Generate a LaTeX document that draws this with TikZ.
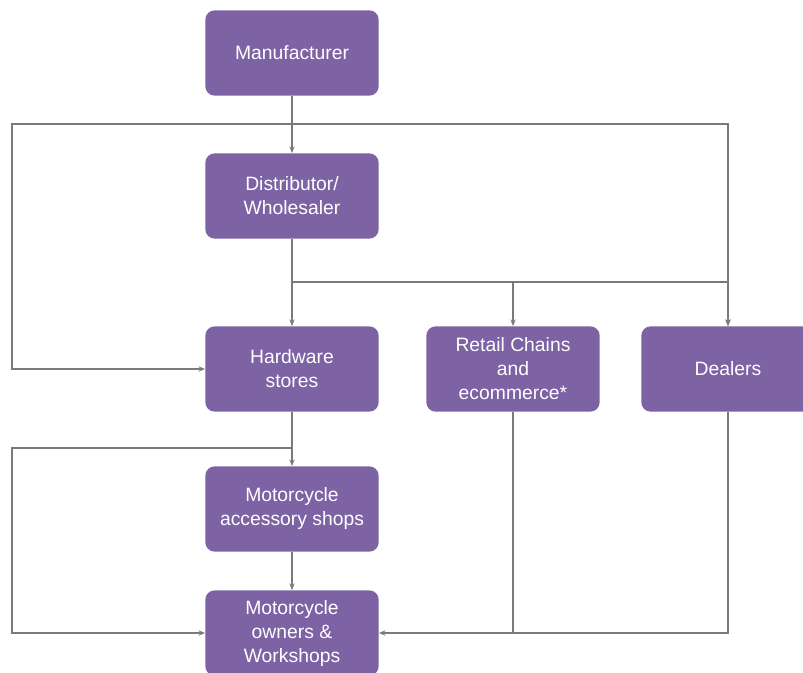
\documentclass[tikz,border=0pt]{standalone}
\usepackage{fontspec}
\setmainfont{Liberation Sans}
\usepackage{tikz}
\usetikzlibrary{arrows.meta}
\definecolor{boxpurple}{RGB}{125,98,164}
\definecolor{linegray}{RGB}{122,122,122}
\newcommand{\BoxW}{130pt}
\newcommand{\BoxH}{64pt}

\begin{document}
\begin{tikzpicture}[x=0.75pt,y=-0.75pt,
  box/.style={fill=boxpurple, rounded corners=7pt, minimum width=\BoxW, minimum height=\BoxH,
    text=white, align=center, font=\fontsize{14.5}{18}\selectfont, inner sep=2pt},
  arr/.style={draw=linegray, line width=1.1pt, -{Stealth[length=5pt,width=4pt]}},
  ln/.style={draw=linegray, line width=1.1pt}]

\clip (0,0) rectangle (803,673);

\node[box] (man) at (292,53) {Manufacturer};
\node[box] (dist) at (292,196) {Distributor/\\Wholesaler};
\node[box] (hw) at (292,369) {Hardware\\stores};
\node[box] (retail) at (513,369) {Retail Chains\\and\\ecommerce*};
\node[box] (deal) at (728,369) {Dealers};
\node[box] (acc) at (292,509) {Motorcycle\\accessory shops};
\node[box] (own) at (292,633) {Motorcycle\\owners \&\\Workshops};

% manufacturer level
\coordinate (j1) at (292,124);
\coordinate (l1) at (12,124);
\draw[arr] (man) -- (dist);
\draw[arr] (j1) -- (l1) |- (hw.west);
\draw[arr] (j1) -| (deal.north);

% distributor level
\coordinate (j2) at (292,282);
\draw[arr] (dist) -- (hw);
\draw[arr] (j2) -| (retail.north);
\draw[arr] (j2) -| (deal.north);

% hardware level
\coordinate (j3) at (292,448);
\coordinate (l3) at (12,448);
\draw[arr] (hw) -- (acc);
\draw[arr] (j3) -- (l3) |- (own.west);
\draw[arr] (acc) -- (own);

% retail and dealers to owners
\draw[ln] (retail.south) -- (retail.south |- own.east);
\draw[arr] (deal.south) |- (own.east);

\end{tikzpicture}
\end{document}
